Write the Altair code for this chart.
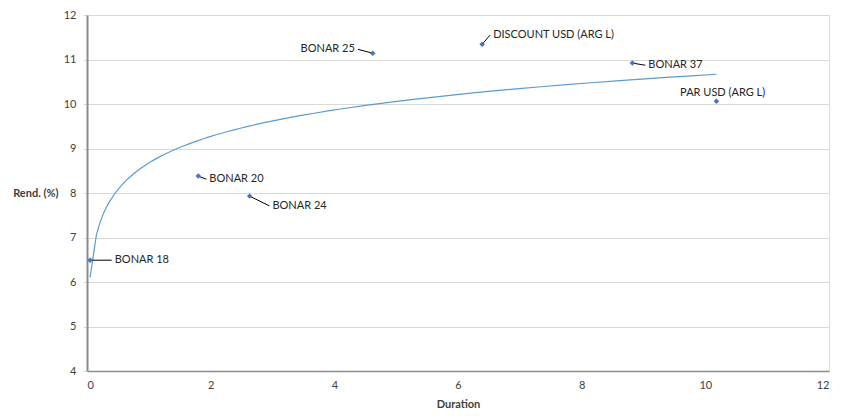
import altair as alt
import pandas as pd

names = ["BONAR 18", "BONAR 20", "BONAR 24", "BONAR 25", "DISCOUNT USD (ARG L)", "BONAR 37", "PAR USD (ARG L)"]
duration = [0.05, 1.80, 2.63, 4.62, 6.39, 8.82, 10.18]
rend = [6.49, 8.38, 7.93, 11.14, 11.34, 10.92, 10.06]
# label anchor points (data units) for the callouts
label_x = [0.40, 1.93, 2.95, 4.38, 6.52, 9.03, 10.28]
label_y = [6.49, 8.31, 7.71, 11.23, 11.55, 10.87, 10.25]
label_align = ["left", "left", "left", "right", "left", "left", "center"]
has_leader = [True, True, True, True, True, True, False]

df = pd.DataFrame({"name": names, "x": duration, "y": rend,
                   "lx": label_x, "ly": label_y, "align": label_align, "leader": has_leader})

FONT = "Lato"
xs = alt.Scale(domain=[0, 12], nice=False, zero=False)
ys = alt.Scale(domain=[4, 12], nice=False, zero=False)

base = alt.Chart(df)

trend = base.transform_regression("x", "y", method="log").mark_line(
    color="#5B9BD5", strokeWidth=1.2
).encode(
    x=alt.X("x:Q", scale=xs, axis=alt.Axis(
        values=[0, 2, 4, 6, 8, 10, 12], format="d", title="Duration", grid=False, ticks=False,
        domainColor="#8c8c8c", domainWidth=1.5, labelPadding=8, titlePadding=8,
        labelColor="#404040", titleColor="#404040", labelFont=FONT, titleFont=FONT,
        labelFontSize=11, titleFontSize=11, titleFontWeight="bold")),
    y=alt.Y("y:Q", scale=ys, axis=alt.Axis(
        values=[4, 5, 6, 7, 8, 9, 10, 11, 12], format="d", title="Rend. (%)", grid=True,
        gridColor="#d9d9d9", gridWidth=1, tickColor="#d9d9d9", tickSize=4,
        domainColor="#8c8c8c", domainWidth=2, labelPadding=7,
        labelColor="#404040", titleColor="#404040", labelFont=FONT, titleFont=FONT,
        labelFontSize=11, titleFontSize=11, titleFontWeight="bold",
        titleAngle=0, titleAlign="right", titleBaseline="middle",
        titleX=-29, titleY=178)),
)

leaders = base.transform_filter("datum.leader").mark_rule(color="#000000", strokeWidth=1).encode(
    x="x:Q", y="y:Q", x2="lx:Q", y2="ly:Q"
)

points = base.mark_point(filled=True, shape="diamond", size=30, color="#4472C4", opacity=1).encode(
    x="x:Q", y="y:Q"
)

def labels(al, dx):
    return base.transform_filter(f"datum.align == '{al}'").mark_text(
        align=al, baseline="middle", dx=dx, font=FONT, fontSize=11, color="#262626"
    ).encode(x="lx:Q", y="ly:Q", text="name:N")

chart = alt.layer(trend, leaders, points, labels("left", 3), labels("right", -3), labels("center", 0)).properties(
    width=742, height=356,
    autosize=alt.AutoSizeParams(type="none"),
    padding={"left": 79, "top": 7, "right": 4, "bottom": 40},
).configure_view(stroke=None).configure(background="white")

chart.save("out.html", embed_options={"renderer": "svg", "actions": False})
